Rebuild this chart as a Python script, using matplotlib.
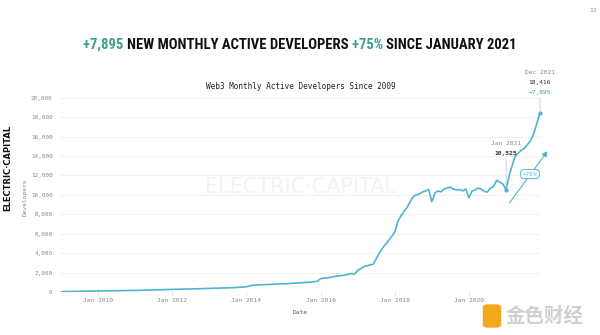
import numpy as np
import pandas as pd
import matplotlib
matplotlib.use("Agg")
import matplotlib.pyplot as plt
from matplotlib.patches import FancyBboxPatch, FancyArrowPatch

# Monthly active developers, Jan 2009 .. Dec 2021
devs_2009 = [30, 40, 50, 55, 60, 65, 70, 75, 80, 85, 90, 95]
devs_2010 = [100, 105, 110, 115, 120, 125, 130, 135, 140, 145, 150, 155]
devs_2011 = [160, 170, 180, 190, 200, 210, 215, 220, 230, 240, 250, 260]
devs_2012 = [270, 280, 290, 300, 305, 310, 315, 320, 330, 340, 350, 360]
devs_2013 = [370, 380, 390, 400, 410, 420, 430, 440, 450, 470, 480, 500]
devs_2014 = [540, 620, 690, 720, 730, 740, 760, 780, 790, 800, 820, 840]
devs_2015 = [860, 820, 880, 900, 920, 940, 960, 980, 1000, 1030, 1060, 1100]
devs_2016 = [1380, 1420, 1460, 1500, 1550, 1620, 1660, 1700, 1760, 1820, 1900, 1850]
devs_2017 = [2250, 2400, 2600, 2700, 2780, 2850, 3400, 4000, 4500, 4900, 5300, 5700]
devs_2018 = [6200, 7300, 7800, 8300, 8700, 9300, 9800, 10000, 10100, 10300, 10400, 10550]
devs_2019 = [9300, 10200, 10400, 10300, 10600, 10700, 10800, 10600, 10500, 10550, 10400, 10600]
devs_2020 = [9700, 10400, 10500, 10700, 10600, 10350, 10300, 10700, 10900, 11500, 11300, 11100]
devs_2021 = [10525, 12000, 13000, 14000, 14300, 14600, 14800, 15200, 15600, 16300, 17400, 18416]

developers = (devs_2009 + devs_2010 + devs_2011 + devs_2012 + devs_2013 + devs_2014 +
              devs_2015 + devs_2016 + devs_2017 + devs_2018 + devs_2019 + devs_2020 + devs_2021)
months = pd.date_range("2009-01-01", periods=len(developers), freq="MS")

y_ticks = [0, 2000, 4000, 6000, 8000, 10000, 12000, 14000, 16000, 18000, 20000]
x_tick_years = [2010, 2012, 2014, 2016, 2018, 2020]

LINE = "#4fb3d6"
TEAL = "#3f9e8e"
GREY = "#888888"
MONO = ["DejaVu Sans Mono"]
HEAD = ["Roboto Condensed", "Liberation Sans Narrow", "Roboto", "DejaVu Sans"]

fig = plt.figure(figsize=(6, 3.35), dpi=100)
fig.patch.set_facecolor("white")

# headline, built from coloured pieces and squeezed to ~430px wide
title_parts = [("+7,895 ", TEAL), ("NEW MONTHLY ACTIVE DEVELOPERS ", "#111111"),
               ("+75% ", TEAL), ("SINCE JANUARY 2021", "#111111")]
renderer = fig.canvas.get_renderer()
texts = [fig.text(0, 1 - 45 / 335, part, color=col, fontsize=13, fontweight="bold",
                  family=HEAD, va="center") for part, col in title_parts]
total = sum(t.get_window_extent(renderer).width for t in texts)
size = 13 * 432 / total
for t in texts:
    t.set_fontsize(size)
widths = [t.get_window_extent(renderer).width for t in texts]
x0 = (600 - sum(widths)) / 2
for t, w in zip(texts, widths):
    t.set_x(x0 / 600)
    x0 += w

fig.text(593 / 600, 1 - 10 / 335, "13", color="#999999", fontsize=4.5, family=MONO,
         ha="center", va="center")

ax = fig.add_axes([61 / 600, 43 / 335, 479 / 600, 194.3 / 335])
ax.plot(months, developers, color=LINE, lw=1.2, zorder=3, solid_joinstyle="round")

ax.set_xlim(months[0], months[-1])
ax.set_ylim(0, 20000)
ax.set_yticks(y_ticks)
ax.set_yticklabels([f"{v:,}" for v in y_ticks], family=MONO, fontsize=4.3, color=GREY)
ax.set_xticks([pd.Timestamp(f"{y}-01-01") for y in x_tick_years])
ax.set_xticklabels([f"Jan {y}" for y in x_tick_years], family=MONO, fontsize=4.5, color=GREY)
ax.tick_params(axis="y", length=0, pad=6)
ax.tick_params(axis="x", length=2, width=0.5, color="#cccccc", pad=2)
ax.grid(axis="y", color="#eeeeee", lw=0.6)
ax.set_axisbelow(True)
for s in ax.spines.values():
    s.set_visible(False)
ax.axhline(0, color="#e4e4e4", lw=0.6, zorder=1)

ax.set_title("Web3 Monthly Active Developers Since 2009", family=MONO, fontsize=5.6,
             color="#222222", pad=6)
ax.set_xlabel("Date", family=MONO, fontsize=4.5, color="#555555", labelpad=5)
fig.text(25 / 600, 1 - 197 / 335, "Developers", family=MONO, fontsize=4.5, color=GREY,
         rotation=90, ha="center", va="center")
fig.text(8 / 600, 1 - 168 / 335, "ELECTRIC\u00b7CAPITAL", family=["DejaVu Sans"], fontsize=6,
         fontweight="bold", color="#111111", rotation=90, ha="center", va="center")

# faint brand watermark inside the plot
ax.text(0.5, 0.54, "ELECTRIC\u00b7CAPITAL", transform=ax.transAxes, fontsize=15,
        family=["DejaVu Sans"], color="#f3f3f3", ha="center", va="center", zorder=0)

# Jan 2021 and Dec 2021 callouts
start_i, end_i = 144, len(developers) - 1
callouts = [
    (start_i, 22, [("Jan 2021", GREY, "normal"), (f"{developers[start_i]:,}", "#333333", "bold")]),
    (end_i, 11, [("Dec 2021", GREY, "normal"), (f"{developers[end_i]:,}", "#333333", "normal"),
                 ("+7,895", TEAL, "normal")]),
]
for i, dy, lines in callouts:
    xv, yv = months[i], developers[i]
    ax.plot([xv], [yv], "o", ms=2, color=LINE, zorder=4, clip_on=False)
    ax.annotate("", xy=(xv, yv), xytext=(0, dy), textcoords="offset points",
                arrowprops=dict(arrowstyle="-", color="#bbbbbb", lw=0.5, shrinkA=0, shrinkB=2),
                annotation_clip=False)
    n = len(lines)
    for k, (txt, col, wt) in enumerate(lines):
        ax.annotate(txt, xy=(xv, yv), xytext=(0, dy + 2 + (n - 1 - k) * 7.3),
                    textcoords="offset points", ha="center", va="bottom", family=MONO,
                    fontsize=4.5, color=col, fontweight=wt, annotation_clip=False)

# growth arrow with +75% badge
fig.add_artist(FancyArrowPatch(
    (508 / 600, 1 - 205 / 335), (549 / 600, 1 - 149 / 335), transform=fig.transFigure,
    arrowstyle="-|>,head_length=3,head_width=1.6", color=LINE, lw=0.8))
fig.text(530 / 600, 1 - 174 / 335, "+75%", family=MONO, fontsize=4.3, color=LINE,
         ha="center", va="center",
         bbox=dict(boxstyle="round,pad=0.35,rounding_size=0.6", fc="white", ec=LINE, lw=0.7))

# site watermark bottom right
fig.add_artist(FancyBboxPatch((484 / 600, 1 - 327 / 335), 16 / 600, 22 / 335,
                              boxstyle="round,pad=0.002,rounding_size=0.008",
                              transform=fig.transFigure, fc="#f2a81d", ec="none"))
fig.text(545 / 600, 1 - 316 / 335, "金色财经", family=["Noto Sans CJK SC", "DejaVu Sans"],
         fontsize=14, color="#d0d0d0", ha="center", va="center", fontweight="bold")

fig.savefig("out.png", dpi=100, facecolor="white")
